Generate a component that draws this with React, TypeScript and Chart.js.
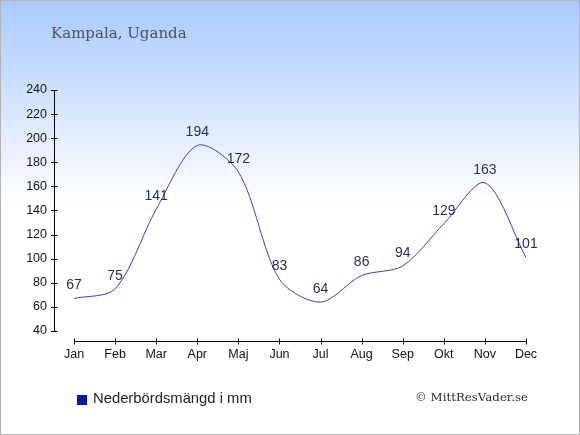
import React, { useEffect, useRef } from 'react';
import { Chart, registerables } from 'chart.js';

Chart.register(...registerables);

const months = ['Jan', 'Feb', 'Mar', 'Apr', 'Maj', 'Jun', 'Jul', 'Aug', 'Sep', 'Okt', 'Nov', 'Dec'];
const rainfall = [67, 75, 141, 194, 172, 83, 64, 86, 94, 129, 163, 101];
const yTicks = [40, 60, 80, 100, 120, 140, 160, 180, 200, 220, 240];

const title = 'Kampala, Uganda';
const seriesLabel = 'Nederbördsmängd i mm';
const credit = '© MittResVader.se';

const W = 580;
const H = 435;

const decor = {
  id: 'decor',
  beforeDraw(chart: any) {
    const { ctx } = chart;
    ctx.save();
    const g = ctx.createLinearGradient(0, 0, 0, 205);
    g.addColorStop(0, '#a8c9ff');
    g.addColorStop(1, '#ffffff');
    ctx.fillStyle = '#ffffff';
    ctx.fillRect(0, 0, W, H);
    ctx.fillStyle = g;
    ctx.fillRect(0, 0, W, 205);

    ctx.strokeStyle = '#b4b4b4';
    ctx.lineWidth = 1;
    ctx.strokeRect(0.5, 0.5, W - 1, H - 1);

    ctx.fillStyle = '#505050';
    ctx.font = '15px "DejaVu Serif"';
    ctx.textBaseline = 'alphabetic';
    ctx.textAlign = 'left';
    ctx.fillText(title, 51, 38);
    ctx.restore();
  },
  afterDraw(chart: any) {
    const { ctx, scales } = chart;
    const x = scales.x;
    const y = scales.y;
    ctx.save();
    ctx.strokeStyle = '#000000';
    ctx.lineWidth = 1;
    ctx.beginPath();
    // y axis
    const ax = Math.round(chart.chartArea.left) + 0.5;
    ctx.moveTo(ax, Math.round(y.getPixelForValue(yTicks[yTicks.length - 1])));
    ctx.lineTo(ax, Math.round(y.getPixelForValue(yTicks[0])) + 1);
    yTicks.forEach((v) => {
      const py = Math.round(y.getPixelForValue(v)) + 0.5;
      ctx.moveTo(ax - 3.5, py);
      ctx.lineTo(ax + 3, py);
    });
    // x axis
    const ay = Math.round(chart.chartArea.bottom) + 0.5;
    ctx.moveTo(Math.round(x.getPixelForValue(0)), ay);
    ctx.lineTo(Math.round(x.getPixelForValue(months.length - 1)) + 1, ay);
    months.forEach((_, i) => {
      const px = Math.round(x.getPixelForValue(i)) + 0.5;
      ctx.moveTo(px, ay - 3);
      ctx.lineTo(px, ay + 3);
    });
    ctx.stroke();

    // legend
    ctx.fillStyle = '#0a1aa8';
    ctx.fillRect(77, 395, 10, 10);
    ctx.fillStyle = '#222222';
    ctx.font = '14.8px "Liberation Sans", Arial, sans-serif';
    ctx.textBaseline = 'middle';
    ctx.textAlign = 'left';
    ctx.fillText(seriesLabel, 93, 399);

    // credit
    ctx.fillStyle = '#2a2a2a';
    ctx.font = '11.8px "DejaVu Serif"';
    ctx.textAlign = 'right';
    ctx.fillText(credit, 528, 398);
    ctx.restore();
  },
  afterDatasetsDraw(chart: any) {
    const { ctx } = chart;
    const meta = chart.getDatasetMeta(0);
    ctx.save();
    ctx.fillStyle = '#1e2f50';
    ctx.font = '14px "Liberation Sans", Arial, sans-serif';
    ctx.textAlign = 'center';
    ctx.textBaseline = 'middle';
    meta.data.forEach((pt: any, i: number) => {
      ctx.fillText(String(rainfall[i]), pt.x, pt.y - 13);
    });
    ctx.restore();
  },
};

const RainChart: React.FC = () => {
  const chartRef = useRef<HTMLCanvasElement>(null);

  useEffect(() => {
    document.body.style.margin = '0';
    const ctx = chartRef.current?.getContext('2d');
    if (!ctx) return;

    const chart = new Chart(ctx, {
      type: 'line',
      data: {
        datasets: [
          {
            label: seriesLabel,
            data: rainfall.map((v, i) => ({ x: i, y: v })),
            borderColor: '#3343c4',
            borderWidth: 1,
            pointRadius: 0,
            fill: false,
            tension: 0.3,
          },
        ],
      },
      options: {
        responsive: true,
        maintainAspectRatio: false,
        animation: false,
        layout: { padding: { top: 90, right: 54, bottom: 0, left: 0 } },
        plugins: {
          legend: { display: false },
          tooltip: { enabled: false },
        },
        scales: {
          x: {
            type: 'linear',
            min: -0.487,
            max: months.length - 1,
            grid: { display: false, drawTicks: false },
            border: { display: false },
            afterBuildTicks: (s: any) => {
              s.ticks = months.map((_, i) => ({ value: i }));
            },
            afterFit: (s: any) => {
              s.height = H - 341;
            },
            ticks: {
              padding: 6,
              color: '#111111',
              font: { family: '"Liberation Sans", Arial, sans-serif', size: 12.5 },
              callback: (v: any) => months[v as number] ?? '',
              maxRotation: 0,
              autoSkip: false,
            },
          },
          y: {
            min: 31.7,
            max: 240,
            grid: { display: false, drawTicks: false },
            border: { display: false },
            afterBuildTicks: (s: any) => {
              s.ticks = yTicks.map((v) => ({ value: v }));
            },
            afterFit: (s: any) => {
              s.width = 54;
            },
            ticks: {
              padding: 7,
              color: '#111111',
              font: { family: '"Liberation Sans", Arial, sans-serif', size: 12.5 },
            },
          },
        },
      },
      plugins: [decor],
    });

    return () => {
      chart.destroy();
    };
  }, []);

  return (
    <div style={{ position: 'relative', width: W, height: H }}>
      <canvas ref={chartRef}></canvas>
    </div>
  );
};

export default function App() {
  return <RainChart />;
}
